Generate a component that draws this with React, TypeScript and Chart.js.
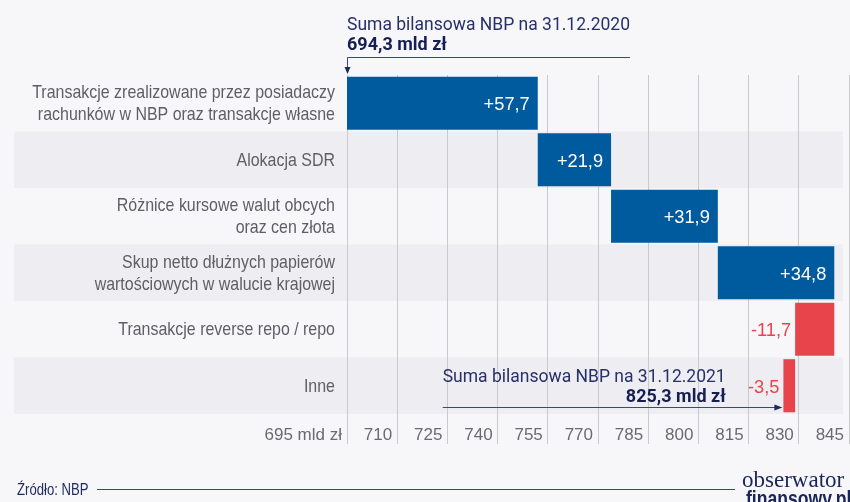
import React, { useEffect, useRef } from "react";
import { Chart, registerables } from "chart.js";

Chart.register(...registerables);

// ---------- data ----------
const categories: (string | string[])[] = [
  ["Transakcje zrealizowane przez posiadaczy", "rachunków w NBP oraz transakcje własne"],
  "Alokacja SDR",
  ["Różnice kursowe walut obcych", "oraz cen złota"],
  ["Skup netto dłużnych papierów", "wartościowych w walucie krajowej"],
  "Transakcje reverse repo / repo",
  "Inne",
];
const startValue = 694.3;
const changes = [57.7, 21.9, 31.9, 34.8, -11.7, -3.5];
const endValue = 825.3;
const xTicks = [695, 710, 725, 740, 755, 770, 785, 800, 815, 830, 845];
const startTitle = "Suma bilansowa NBP na 31.12.2020";
const endTitle = "Suma bilansowa NBP na 31.12.2021";
const unitLabel = "mld zł";
const sourceLabel = "Źródło: NBP";

// ---------- styles ----------
const BG = "#f7f7fa";
const BAND = "#ededf2";
const BLUE = "#005a9e";
const RED = "#e8444c";
const NAVY = "#1f2a5e";
const GRID = "#c9c9ce";
const SANS = "'Liberation Sans', Arial, sans-serif";
const TITLE_FONT = "Roboto, 'Liberation Sans', sans-serif";
const CONDENSE = 0.84;

const fmt = (v: number) => v.toFixed(1).replace(".", ",");

// floating ranges built from cumulative changes
const ranges: [number, number][] = [];
{
  let acc = startValue;
  for (const c of changes) {
    const next = Math.round((acc + c) * 10) / 10;
    ranges.push([acc, next]);
    acc = next;
  }
}
const colors = changes.map((c) => (c >= 0 ? BLUE : RED));

function drawScaled(
  ctx: CanvasRenderingContext2D,
  text: string,
  x: number,
  y: number,
  sx: number,
  align: CanvasTextAlign
) {
  ctx.save();
  ctx.translate(x, y);
  ctx.scale(sx, 1);
  ctx.textAlign = align;
  ctx.fillText(text, 0, 0);
  ctx.restore();
}

const bgPlugin = {
  id: "bgBands",
  beforeDraw(chart: any) {
    const { ctx, width, height } = chart;
    const y = chart.scales.y;
    ctx.save();
    ctx.fillStyle = BG;
    ctx.fillRect(0, 0, width, height);
    const pitch = y.getPixelForValue(1) - y.getPixelForValue(0);
    ctx.fillStyle = BAND;
    for (let i = 1; i < categories.length; i += 2) {
      const c = y.getPixelForValue(i);
      ctx.fillRect(14, c - pitch / 2, 829, pitch);
    }
    ctx.restore();
  },
};

const annPlugin = {
  id: "annotations",
  afterDatasetsDraw(chart: any) {
    const { ctx } = chart;
    const x = chart.scales.x;
    const y = chart.scales.y;
    const meta = chart.getDatasetMeta(0);
    ctx.save();

    // category labels (condensed)
    ctx.font = `19px ${SANS}`;
    ctx.fillStyle = "#5e5e64";
    ctx.textBaseline = "middle";
    const lh = 22;
    categories.forEach((cat, i) => {
      const lines = Array.isArray(cat) ? cat : [cat];
      const yc = y.getPixelForValue(i) + 1;
      lines.forEach((ln, k) => {
        const off = (k - (lines.length - 1) / 2) * lh;
        drawScaled(ctx, ln, chart.chartArea.left - 12, yc + off, CONDENSE, "right");
      });
    });

    // bar value labels
    meta.data.forEach((bar: any, i: number) => {
      const c = changes[i];
      const txt = (c >= 0 ? "+" : "") + fmt(c);
      ctx.font = `19px ${SANS}`;
      ctx.textBaseline = "middle";
      ctx.textAlign = "right";
      const left = Math.min(bar.base, bar.x);
      const right = Math.max(bar.base, bar.x);
      if (c >= 0) {
        ctx.fillStyle = "#ffffff";
        drawScaled(ctx, txt, right - 8, bar.y + 2, 0.96, "right");
      } else {
        ctx.fillStyle = RED;
        drawScaled(ctx, txt, left - 4, bar.y + 2, 0.96, "right");
      }
    });

    // top annotation
    ctx.textBaseline = "alphabetic";
    ctx.font = `17.5px ${TITLE_FONT}`;
    const tw = ctx.measureText(startTitle).width;
    const x0 = chart.chartArea.left;
    ctx.fillStyle = "#27306a";
    ctx.textAlign = "left";
    ctx.fillText(startTitle, x0, 30);
    ctx.font = `bold 18px ${TITLE_FONT}`;
    ctx.fillStyle = "#161f55";
    ctx.fillText(`${fmt(startValue)} ${unitLabel}`, x0, 50);
    ctx.strokeStyle = "#3b4688";
    ctx.lineWidth = 1;
    ctx.beginPath();
    ctx.moveTo(x0 + tw, 57.5);
    ctx.lineTo(x0 + 0.5, 57.5);
    ctx.lineTo(x0 + 0.5, 69);
    ctx.stroke();
    ctx.fillStyle = "#1f2a5e";
    ctx.beginPath();
    ctx.moveTo(x0 - 2.5, 67);
    ctx.lineTo(x0 + 3.5, 67);
    ctx.lineTo(x0 + 0.5, 74);
    ctx.closePath();
    ctx.fill();

    // bottom annotation
    const last = meta.data[meta.data.length - 1];
    const lastLeft = Math.min(last.base, last.x);
    const bx = x.getPixelForValue(723.6);
    ctx.font = `17.5px ${TITLE_FONT}`;
    const tw2 = ctx.measureText(endTitle).width;
    ctx.fillStyle = "#27306a";
    ctx.textAlign = "left";
    ctx.fillText(endTitle, bx, 382);
    ctx.font = `bold 18px ${TITLE_FONT}`;
    ctx.fillStyle = "#161f55";
    ctx.textAlign = "right";
    ctx.fillText(`${fmt(endValue)} ${unitLabel}`, bx + tw2, 402);
    ctx.strokeStyle = "#3b4688";
    ctx.beginPath();
    ctx.moveTo(bx, 407.5);
    ctx.lineTo(lastLeft - 6, 407.5);
    ctx.stroke();
    ctx.fillStyle = "#1f2a5e";
    ctx.beginPath();
    ctx.moveTo(lastLeft - 9, 404.5);
    ctx.lineTo(lastLeft - 1, 407.5);
    ctx.lineTo(lastLeft - 9, 410.5);
    ctx.closePath();
    ctx.fill();

    // footer
    ctx.font = `16px ${SANS}`;
    ctx.fillStyle = NAVY;
    drawScaled(ctx, sourceLabel, 17, 495, 0.82, "left");
    ctx.strokeStyle = "#3b4688";
    ctx.beginPath();
    ctx.moveTo(97, 489.5);
    ctx.lineTo(735, 489.5);
    ctx.stroke();
    ctx.font = `23px 'Liberation Serif', serif`;
    ctx.fillStyle = "#1b2558";
    drawScaled(ctx, "obserwator", 742, 487, 1.0, "left");
    ctx.font = `bold 22px ${SANS}`;
    drawScaled(ctx, "finansowy.pl", 746, 506, 0.8, "left");
    ctx.restore();
  },
};

export default function App() {
  const ref = useRef<HTMLCanvasElement | null>(null);
  useEffect(() => {
    document.body.style.margin = "0";
    document.body.style.background = BG;
    const canvas = ref.current!;
    const chart = new Chart(canvas, {
      type: "bar",
      data: {
        labels: categories as any,
        datasets: [
          {
            data: ranges as any,
            backgroundColor: colors,
            barPercentage: 0.94,
            categoryPercentage: 1,
            borderSkipped: false,
            borderWidth: 0,
          },
        ],
      },
      options: {
        indexAxis: "y",
        animation: false,
        responsive: false,
        maintainAspectRatio: false,
        layout: { padding: { top: 75, bottom: 58, left: 0, right: 1 } },
        plugins: { legend: { display: false }, tooltip: { enabled: false } },
        scales: {
          x: {
            type: "linear",
            min: xTicks[0],
            max: xTicks[xTicks.length - 1],
            afterBuildTicks: (s: any) => {
              s.ticks = xTicks.map((v) => ({ value: v }));
            },
            afterFit: (s: any) => {
              s.height = 30;
            },
            grid: { color: GRID, lineWidth: 1, tickLength: 30 },
            border: { display: false },
            ticks: {
              align: "end",
              labelOffset: -5,
              padding: -19,
              autoSkip: false,
              maxRotation: 0,
              color: "#6a6a70",
              font: { family: SANS, size: 17 },
              callback: (v: any, i: number) => (i === 0 ? `${v} ${unitLabel}` : String(v)),
            },
          },
          y: {
            grid: { display: false, drawTicks: false },
            border: { display: false },
            afterFit: (s: any) => {
              s.width = 347;
            },
            ticks: { display: false },
          },
        },
      },
      plugins: [bgPlugin, annPlugin],
    });
    return () => chart.destroy();
  }, []);
  return (
    <div style={{ position: "absolute", left: 0, top: 0, width: 850, height: 502, background: BG }}>
      <canvas ref={ref} width={850} height={502} style={{ width: 850, height: 502, display: "block" }} />
    </div>
  );
}
